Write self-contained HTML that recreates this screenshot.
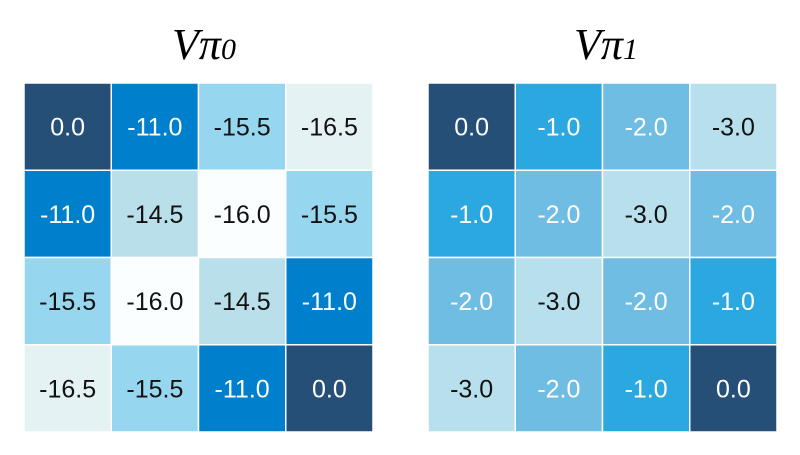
<!DOCTYPE html>
<html><head><meta charset="utf-8"><style>
body{margin:0;background:#fff;width:800px;height:450px;overflow:hidden}
svg text{font-family:"Liberation Sans",sans-serif}
</style></head><body>
<svg id="chart" width="800" height="450">
<text x="204" y="59" text-anchor="middle" font-family="Liberation Serif,serif" font-style="italic" font-size="44" style="font-family:'Liberation Serif',serif">Vπ<tspan font-size="30">0</tspan></text>
<text x="606" y="59" text-anchor="middle" font-style="italic" font-size="44" style="font-family:'Liberation Serif',serif">Vπ<tspan font-size="30">1</tspan></text>
</svg>
<script>
const valuesPi0 = [[0.0,-11.0,-15.5,-16.5],[-11.0,-14.5,-16.0,-15.5],[-15.5,-16.0,-14.5,-11.0],[-16.5,-15.5,-11.0,0.0]];
const valuesPi1 = [[0.0,-1.0,-2.0,-3.0],[-1.0,-2.0,-3.0,-2.0],[-2.0,-3.0,-2.0,-1.0],[-3.0,-2.0,-1.0,0.0]];
const colorsPi0 = {"0":"#264f78","-11":"#0080cc","-14.5":"#b8dfea","-15.5":"#97d6ef","-16":"#fafeff","-16.5":"#e4f2f4"};
const colorsPi1 = {"0":"#264f78","-1":"#2ca8e0","-2":"#6fbde3","-3":"#b8dfec"};
const darkText0 = ["-15.5","-16","-16.5","-14.5"];
const darkText1 = ["-3"];
const svg=document.getElementById('chart');
const NS='http://www.w3.org/2000/svg';
function draw(vals,colors,darkSet,x0,name){
  const y0=83,size=349,c=size/vals.length;
  vals.forEach((row,i)=>row.forEach((v,j)=>{
    const r=document.createElementNS(NS,'rect');
    r.setAttribute('x',x0+j*c);r.setAttribute('y',y0+i*c);
    r.setAttribute('width',c);r.setAttribute('height',c);
    r.setAttribute('fill',colors[String(v)]);
    r.setAttribute('stroke','#fff');r.setAttribute('stroke-width','1.5');
    
    
    svg.appendChild(r);
    const t=document.createElementNS(NS,'text');
    t.setAttribute('x',x0+j*c+c/2);t.setAttribute('y',y0+i*c+c/2+9);
    t.setAttribute('text-anchor','middle');t.setAttribute('font-size','25');
    t.setAttribute('fill',darkSet.includes(String(v))?'#111':'#fff');
    t.textContent=v.toFixed(1);
    
    
    svg.appendChild(t);
  }));
}
draw(valuesPi0,colorsPi0,darkText0,24,'pi0');
draw(valuesPi1,colorsPi1,darkText1,428,'pi1');
</script>
</body></html>
